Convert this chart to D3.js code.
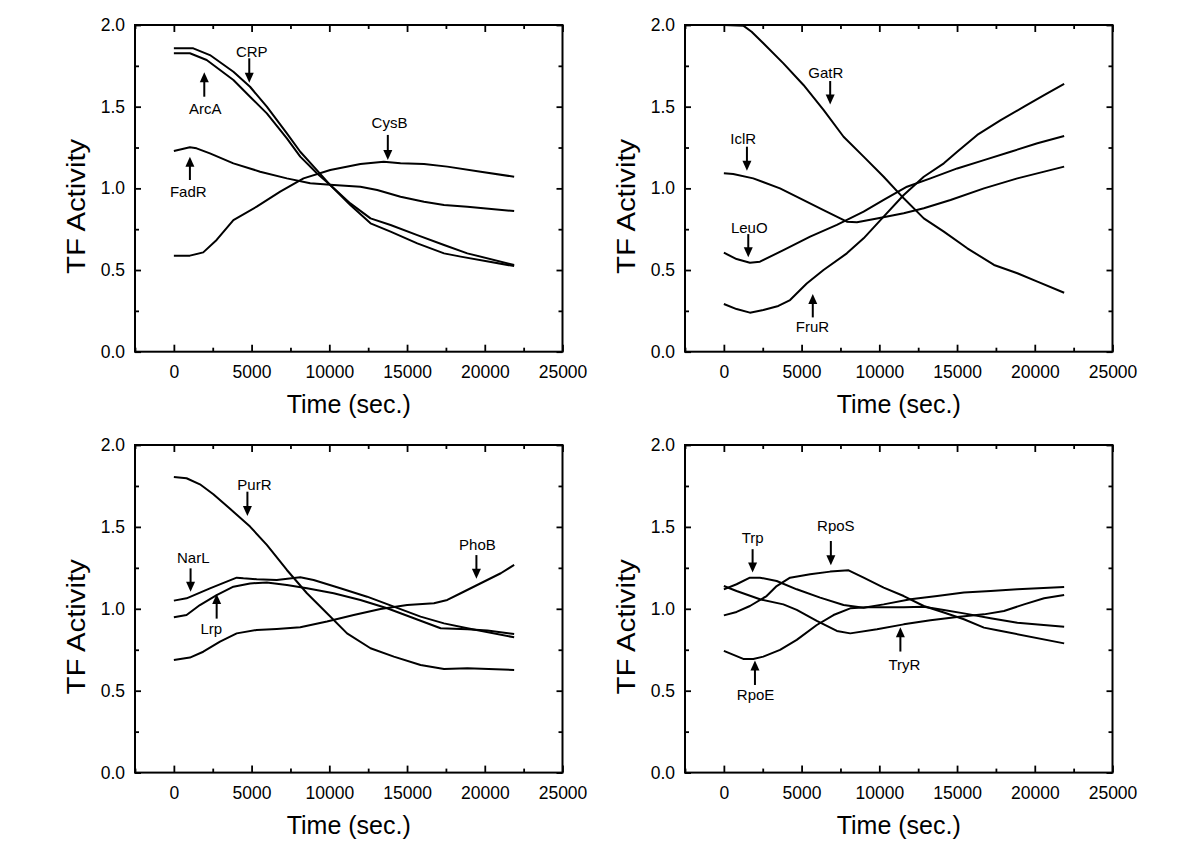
<!DOCTYPE html>
<html>
<head>
<meta charset="utf-8">
<script src="https://cdn.jsdelivr.net/npm/d3@7"></script>
<style>
  html, body { margin: 0; padding: 0; background: #fff; }
  svg { display: block; font-family: Arial, "Liberation Sans", sans-serif; }
</style>
</head>
<body>
<svg id="chart" width="1200" height="857"></svg>
<script>
// ---------------- data ----------------
const xTickValues = [0, 5000, 10000, 15000, 20000, 25000];
const xMinorTicks = [-2500, 2500, 7500, 12500, 17500, 22500];
const yTickLabels = ["0.0", "0.5", "1.0", "1.5", "2.0"];
const yTickValues = [0, 0.5, 1.0, 1.5, 2.0];
const yMinorTicks = [0.25, 0.75, 1.25, 1.75];
const xTitle = "Time (sec.)";
const yTitle = "TF Activity";

// Panel A (top left)
const CRP = [[0,1.857],[1250,1.857],[2320,1.816],[3830,1.714],[4900,1.622],[5980,1.5],[7270,1.337],[8130,1.224],[9200,1.112],[10060,1.02],[11350,0.908],[12650,0.816],[13940,0.776],[15660,0.714],[17380,0.653],[18880,0.602],[21890,0.531]];
const ArcA = [[0,1.827],[1030,1.827],[2110,1.786],[3830,1.663],[4900,1.561],[5980,1.459],[7270,1.306],[8130,1.194],[9200,1.092],[10060,1.02],[11350,0.898],[12650,0.786],[13940,0.735],[15660,0.663],[17380,0.602],[18450,0.582],[21890,0.524]];
const FadR = [[0,1.229],[1030,1.251],[1460,1.245],[2320,1.214],[3830,1.153],[5550,1.102],[7270,1.061],[8770,1.031],[10280,1.02],[12000,1.01],[13080,0.99],[14580,0.949],[16090,0.918],[17380,0.898],[18880,0.888],[21890,0.861]];
const CysB = [[0,0.588],[1030,0.588],[1890,0.608],[2750,0.684],[3830,0.806],[5330,0.888],[6840,0.98],[8340,1.061],[10060,1.112],[12000,1.149],[13500,1.163],[14580,1.153],[16090,1.149],[17590,1.133],[19740,1.102],[21890,1.071]];
// [label, arrowX, tailValue, tipValue, labelX, labelValue]
const notesA = [["CRP",4850,1.796,1.647,5011,1.837],["ArcA",1957,1.561,1.71,2022,1.486],["FadR",1032,1.051,1.194,925,0.98],["CysB",13763,1.327,1.173,13871,1.402]];

// Panel B (top right)
const GatR = [[0,2.0],[1250,1.996],[1785,1.959],[2540,1.888],[3830,1.765],[5120,1.633],[6410,1.48],[7700,1.316],[8990,1.194],[10280,1.071],[11570,0.939],[12860,0.816],[14150,0.735],[15660,0.633],[17380,0.531],[18880,0.48],[20170,0.429],[21890,0.361]];
const IclR = [[0,1.092],[600,1.088],[1890,1.061],[3610,1.0],[4900,0.939],[6410,0.867],[7910,0.796],[8560,0.792],[9850,0.816],[11570,0.847],[12860,0.878],[14580,0.929],[16730,1.0],[18880,1.061],[21890,1.133]];
const LeuO = [[0,0.606],[817,0.567],[1677,0.545],[2322,0.551],[3830,0.622],[5550,0.704],[7270,0.776],[8990,0.857],[10280,0.929],[11780,1.01],[13290,1.061],[15010,1.122],[16730,1.173],[18450,1.224],[20170,1.276],[21890,1.32]];
const FruR = [[0,0.292],[817,0.261],[1677,0.239],[2540,0.255],[3505,0.28],[4260,0.316],[5330,0.418],[6410,0.5],[7910,0.602],[8990,0.694],[10280,0.827],[11570,0.959],[12860,1.071],[14150,1.153],[15010,1.224],[16300,1.327],[17810,1.418],[19310,1.5],[20600,1.571],[21890,1.639]];
const notesB = [["GatR",6839,1.657,1.514,6559,1.708],["IclR",1484,1.255,1.108,1247,1.306],["LeuO",1570,0.72,0.578,1634,0.761],["FruR",5720,0.21,0.353,5699,0.153]];

// Panel C (bottom left)
const PurR = [[0,1.805],[817,1.797],[1677,1.76],[2540,1.699],[3830,1.593],[4900,1.502],[5980,1.39],[7270,1.237],[8560,1.095],[9850,0.973],[11140,0.85],[12650,0.759],[14150,0.708],[15870,0.657],[17380,0.633],[18880,0.637],[21890,0.627]];
const NarL = [[0,1.05],[817,1.064],[2322,1.125],[3398,1.166],[4043,1.19],[4473,1.186],[5330,1.18],[6620,1.176],[8130,1.192],[8990,1.176],[10710,1.125],[12430,1.074],[14150,1.013],[15870,0.952],[17380,0.911],[18880,0.881],[21890,0.826]];
const Lrp = [[0,0.948],[817,0.962],[1677,1.023],[2750,1.084],[3830,1.135],[4900,1.155],[5980,1.16],[7270,1.145],[8560,1.125],[10280,1.095],[12000,1.054],[13720,1.003],[15440,0.942],[17160,0.881],[18880,0.875],[20170,0.867],[21890,0.846]];
const PhoB = [[0,0.688],[1032,0.702],[1892,0.738],[2968,0.8],[4043,0.85],[5330,0.871],[6620,0.877],[8130,0.887],[9850,0.922],[11570,0.962],[13290,0.999],[15010,1.023],[16730,1.034],[17590,1.054],[18450,1.095],[19740,1.156],[21030,1.217],[21890,1.268]];
const notesC = [["PurR",4731,1.715,1.566,5183,1.76],["NarL",1075,1.247,1.104,1247,1.314],["Lrp",2753,0.94,1.091,2409,0.877],["PhoB",19462,1.328,1.183,19527,1.39]];

// Panel D (bottom right)
const Trp = [[0,1.119],[817,1.15],[1677,1.19],[2322,1.19],[3398,1.17],[4688,1.119],[6194,1.068],[7700,1.023],[8990,1.007],[10280,1.027],[12000,1.058],[13720,1.078],[15440,1.099],[17160,1.109],[18880,1.119],[21890,1.133]];
const RpoS = [[0,0.96],[817,0.981],[1677,1.017],[2750,1.078],[3398,1.139],[4258,1.19],[5548,1.211],[6839,1.227],[8022,1.235],[8990,1.19],[10280,1.129],[11570,1.078],[12860,1.017],[14150,0.977],[15440,0.936],[16730,0.885],[17590,0.869],[21890,0.789]];
const TryR = [[0,1.139],[817,1.109],[2322,1.058],[3828,1.027],[4688,0.993],[5978,0.926],[7269,0.865],[8129,0.85],[9850,0.875],[11570,0.905],[13290,0.93],[15010,0.95],[16730,0.966],[18020,0.987],[19310,1.027],[20600,1.064],[21890,1.084]];
const RpoE = [[0,0.743],[1247,0.694],[1892,0.694],[2537,0.708],[3613,0.749],[4688,0.81],[5978,0.901],[7054,0.962],[8129,1.003],[9204,1.009],[11570,1.009],[12860,1.013],[14150,0.993],[15440,0.972],[17160,0.942],[18880,0.915],[21890,0.891]];
const notesD = [["Trp",1849,1.364,1.221,1849,1.436],["RpoS",6882,1.414,1.266,7204,1.506],["RpoE",2000,0.535,0.684,2043,0.478],["TryR",11355,0.739,0.887,11613,0.657]];

const panelSeries = [[CRP, ArcA, FadR, CysB], [GatR, IclR, LeuO, FruR], [PurR, NarL, Lrp, PhoB], [Trp, RpoS, TryR, RpoE]];
const panelNotes = [notesA, notesB, notesC, notesD];

// ---------------- layout ----------------
const frames = [
  {x0: 135, x1: 562.5, y0: 25, y1: 351.7},
  {x0: 685, x1: 1112.5, y0: 25, y1: 351.7},
  {x0: 135, x1: 562.5, y0: 445, y1: 772.6},
  {x0: 685, x1: 1112.5, y0: 445, y1: 772.6}
];

const svg = d3.select("#chart");

frames.forEach((f, i) => {
  const x = d3.scaleLinear().domain([-2500, 25000]).range([f.x0, f.x1]);
  const y = d3.scaleLinear().domain([0, 2]).range([f.y1, f.y0]);
  const g = svg.append("g");

  // bottom axis (ticks inward)
  g.append("g").attr("transform", `translate(0,${f.y1})`)
    .call(d3.axisBottom(x).tickValues(xTickValues).tickSize(-7).tickPadding(14).tickFormat(d3.format("d")));
  g.append("g").attr("transform", `translate(0,${f.y1})`)
    .call(d3.axisBottom(x).tickValues(xMinorTicks).tickSize(-4).tickFormat(""));
  // top axis
  g.append("g").attr("transform", `translate(0,${f.y0})`)
    .call(d3.axisTop(x).tickValues(xTickValues).tickSize(-7).tickFormat(""));
  g.append("g").attr("transform", `translate(0,${f.y0})`)
    .call(d3.axisTop(x).tickValues(xMinorTicks).tickSize(-4).tickFormat(""));
  // left axis
  g.append("g").attr("transform", `translate(${f.x0},0)`)
    .call(d3.axisLeft(y).tickValues(yTickValues).tickSize(-6).tickPadding(10).tickFormat((d, k) => yTickLabels[k]));
  g.append("g").attr("transform", `translate(${f.x0},0)`)
    .call(d3.axisLeft(y).tickValues(yMinorTicks).tickSize(-4).tickFormat(""));
  // right axis
  g.append("g").attr("transform", `translate(${f.x1},0)`)
    .call(d3.axisRight(y).tickValues(yTickValues).tickSize(-6).tickFormat(""));
  g.append("g").attr("transform", `translate(${f.x1},0)`)
    .call(d3.axisRight(y).tickValues(yMinorTicks).tickSize(-4).tickFormat(""));

  g.selectAll(".domain").remove();
  g.selectAll(".tick line").attr("stroke", "#000").attr("stroke-width", 1.8);
  g.selectAll(".tick text").attr("fill", "#000").style("font-size", "17.5px")
    .style("font-family", "Arial, 'Liberation Sans', sans-serif");

  // frame
  g.append("rect").attr("x", f.x0).attr("y", f.y0)
    .attr("width", f.x1 - f.x0).attr("height", f.y1 - f.y0)
    .attr("fill", "none").attr("stroke", "#000").attr("stroke-width", 2);

  // titles
  g.append("text").attr("x", (f.x0 + f.x1) / 2).attr("y", f.y1 + 61)
    .attr("text-anchor", "middle").style("font-size", "25px").text(xTitle);
  g.append("text")
    .attr("transform", `translate(${f.x0 - 50},${(f.y0 + f.y1) / 2 + 18}) rotate(-90) scale(1.15,1)`)
    .attr("text-anchor", "middle").style("font-size", "25.5px").text(yTitle);

  // lines
  const line = d3.line().x(d => x(d[0])).y(d => y(d[1]));
  g.selectAll("path.series").data(panelSeries[i]).enter().append("path")
    .attr("class", "series").attr("d", line)
    .attr("fill", "none").attr("stroke", "#000").attr("stroke-width", 2)
    .attr("stroke-linejoin", "round");

  // annotations
  panelNotes[i].forEach(n => {
    const [label, ax, tail, tip, lx, lv] = n;
    const px = x(ax), pTail = y(tail), pTip = y(tip);
    const dir = pTip > pTail ? 1 : -1;
    const headLen = 10, headHalf = 4.5;
    g.append("line").attr("x1", px).attr("x2", px)
      .attr("y1", pTail).attr("y2", pTip - dir * headLen + dir)
      .attr("stroke", "#000").attr("stroke-width", 2);
    g.append("path")
      .attr("d", `M${px},${pTip} L${px - headHalf},${pTip - dir * headLen} L${px + headHalf},${pTip - dir * headLen} Z`)
      .attr("fill", "#000");
    g.append("text").attr("x", x(lx)).attr("y", y(lv))
      .attr("text-anchor", "middle").attr("dominant-baseline", "central")
      .style("font-size", "15px").text(label);
  });
});
</script>
</body>
</html>
